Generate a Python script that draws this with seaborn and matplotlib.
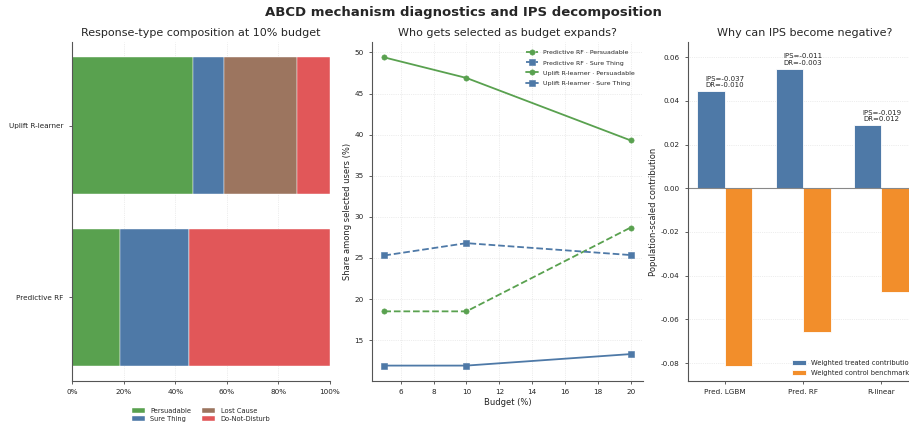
import numpy as np
import pandas as pd
import matplotlib
matplotlib.use("Agg")
import matplotlib.pyplot as plt
import seaborn as sns
from matplotlib.ticker import PercentFormatter, MultipleLocator

# ---------------- data ----------------
# Left: response-type composition at 10% budget (%)
comp_models = ["Predictive RF", "Uplift R-learner"]
response_types = ["Persuadable", "Sure Thing", "Lost Cause", "Do-Not-Disturb"]
comp_persuadable = [18.5, 46.9]
comp_sure_thing = [26.8, 11.9]
comp_lost_cause = [0.0, 28.3]
comp_dnd = [54.7, 12.9]

# Middle: share among selected users (%) by budget
budgets = [5, 10, 20]
rf_persuadable = [18.5, 18.5, 28.7]
rf_sure_thing = [25.3, 26.8, 25.35]
rl_persuadable = [49.4, 46.9, 39.3]
rl_sure_thing = [11.9, 11.9, 13.3]

# Right: IPS decomposition
estimators = ["Pred. LGBM", "Pred. RF", "R-linear"]
treated_contrib = [0.0443, 0.0546, 0.0287]
control_bench = [-0.0813, -0.0657, -0.0477]
ips_values = [-0.037, -0.011, -0.019]
dr_values = [-0.010, -0.003, 0.012]
component_labels = ["Weighted treated contribution", "Weighted control benchmark"]

# ---------------- style ----------------
GREEN = "#59A14F"
BLUE = "#4E79A7"
BROWN = "#9C755F"
RED = "#E15759"
ORANGE = "#F28E2B"

sns.set_style("ticks")
plt.rcParams["font.family"] = ["DejaVu Sans"]
plt.rcParams.update({
    "axes.edgecolor": "#555555",
    "axes.linewidth": 0.8,
    "xtick.color": "#444444",
    "ytick.color": "#444444",
    "xtick.labelcolor": "#222222",
    "ytick.labelcolor": "#222222",
    "xtick.major.size": 2.5,
    "ytick.major.size": 2.5,
    "xtick.major.width": 0.6,
    "ytick.major.width": 0.6,
    "xtick.labelsize": 5.2,
    "ytick.labelsize": 5.2,
    "axes.labelsize": 6,
    "axes.titlesize": 8,
    "axes.labelcolor": "#222222",
})

W, H = 909, 424
fig = plt.figure(figsize=(W / 100, H / 100), dpi=100)


def px_axes(x0, x1, y0, y1):
    return fig.add_axes([x0 / W, 1 - y1 / H, (x1 - x0) / W, (y1 - y0) / H])


def style_grid(ax):
    ax.set_axisbelow(True)
    ax.grid(True, linestyle=":", linewidth=0.5, color="#dddddd")
    sns.despine(ax=ax)


ax1 = px_axes(72, 330, 42, 381)
ax2 = px_axes(372, 643, 42, 381)
ax3 = px_axes(688, 920.6, 42, 381)

# ---------------- left panel ----------------
style_grid(ax1)
segments = [comp_persuadable, comp_sure_thing, comp_lost_cause, comp_dnd]
seg_colors = [GREEN, BLUE, BROWN, RED]
left = np.zeros(len(comp_models))
for vals, col, lab in zip(segments, seg_colors, response_types):
    ax1.barh(comp_models, vals, left=left, height=0.8, color=col, label=lab,
             edgecolor="white", linewidth=0.3)
    left = left + np.array(vals)
ax1.set_xlim(0, 100)
ax1.xaxis.set_major_formatter(PercentFormatter(100, decimals=0))
ax1.set_title("Response-type composition at 10% budget", pad=4)
ax1.legend(loc="upper center", bbox_to_anchor=(0.5, -0.062), ncol=2,
           frameon=False, fontsize=4.8, handlelength=2.0, columnspacing=1.6,
           labelspacing=0.3)

# ---------------- middle panel ----------------
style_grid(ax2)
series = [
    (rf_persuadable, GREEN, "o", "--", "Predictive RF · Persuadable"),
    (rf_sure_thing, BLUE, "s", "--", "Predictive RF · Sure Thing"),
    (rl_persuadable, GREEN, "o", "-", "Uplift R-learner · Persuadable"),
    (rl_sure_thing, BLUE, "s", "-", "Uplift R-learner · Sure Thing"),
]
for vals, col, mk, ls, lab in series:
    sns.lineplot(x=budgets, y=vals, ax=ax2, color=col, marker=mk, linestyle=ls,
                 linewidth=1.3, markersize=3.8, label=lab,
                 markeredgewidth=0.4, markeredgecolor=col)
ax2.set_xlabel("Budget (%)", labelpad=2)
ax2.set_ylabel("Share among selected users (%)", labelpad=2)
ax2.set_title("Who gets selected as budget expands?", pad=4)
ax2.xaxis.set_major_locator(MultipleLocator(2))
ax2.yaxis.set_major_locator(MultipleLocator(5))
ax2.legend(loc="upper right", frameon=False, fontsize=4.5, handlelength=2.0,
           labelspacing=0.75, borderaxespad=0.9)

# ---------------- right panel ----------------
style_grid(ax3)
df = pd.DataFrame({
    "estimator": estimators * 2,
    "value": treated_contrib + control_bench,
    "component": [component_labels[0]] * 3 + [component_labels[1]] * 3,
})
sns.barplot(data=df, x="estimator", y="value", hue="component",
            palette=[BLUE, ORANGE], width=0.7, ax=ax3, edgecolor="white",
            linewidth=0.6, saturation=1)
ax3.axhline(0, color="#888888", linewidth=0.8)
for i, (t, ips, dr) in enumerate(zip(treated_contrib, ips_values, dr_values)):
    ax3.text(i, t + 0.0015, f"IPS={ips:.3f}\nDR={dr:.3f}", ha="center",
             va="bottom", fontsize=5, color="#222222", linespacing=1.1)
ax3.set_xlim(-0.47, 2.5)
ax3.set_ylim(-0.0882, 0.0669)
ax3.yaxis.set_major_locator(MultipleLocator(0.02))
ax3.yaxis.set_major_formatter(matplotlib.ticker.FormatStrFormatter("%.2f"))
ax3.set_xlabel("")
ax3.set_ylabel("Population-scaled contribution", labelpad=2)
ax3.set_title("Why can IPS become negative?", pad=4)
ax3.legend(loc="lower left", bbox_to_anchor=(0.437, 0.008), borderaxespad=0,
           frameon=False, fontsize=4.85, handlelength=2.0, labelspacing=0.6)

fig.suptitle("ABCD mechanism diagnostics and IPS decomposition",
             fontsize=9.5, fontweight="bold", x=0.51, y=0.985)

fig.savefig("out.png", dpi=100)
